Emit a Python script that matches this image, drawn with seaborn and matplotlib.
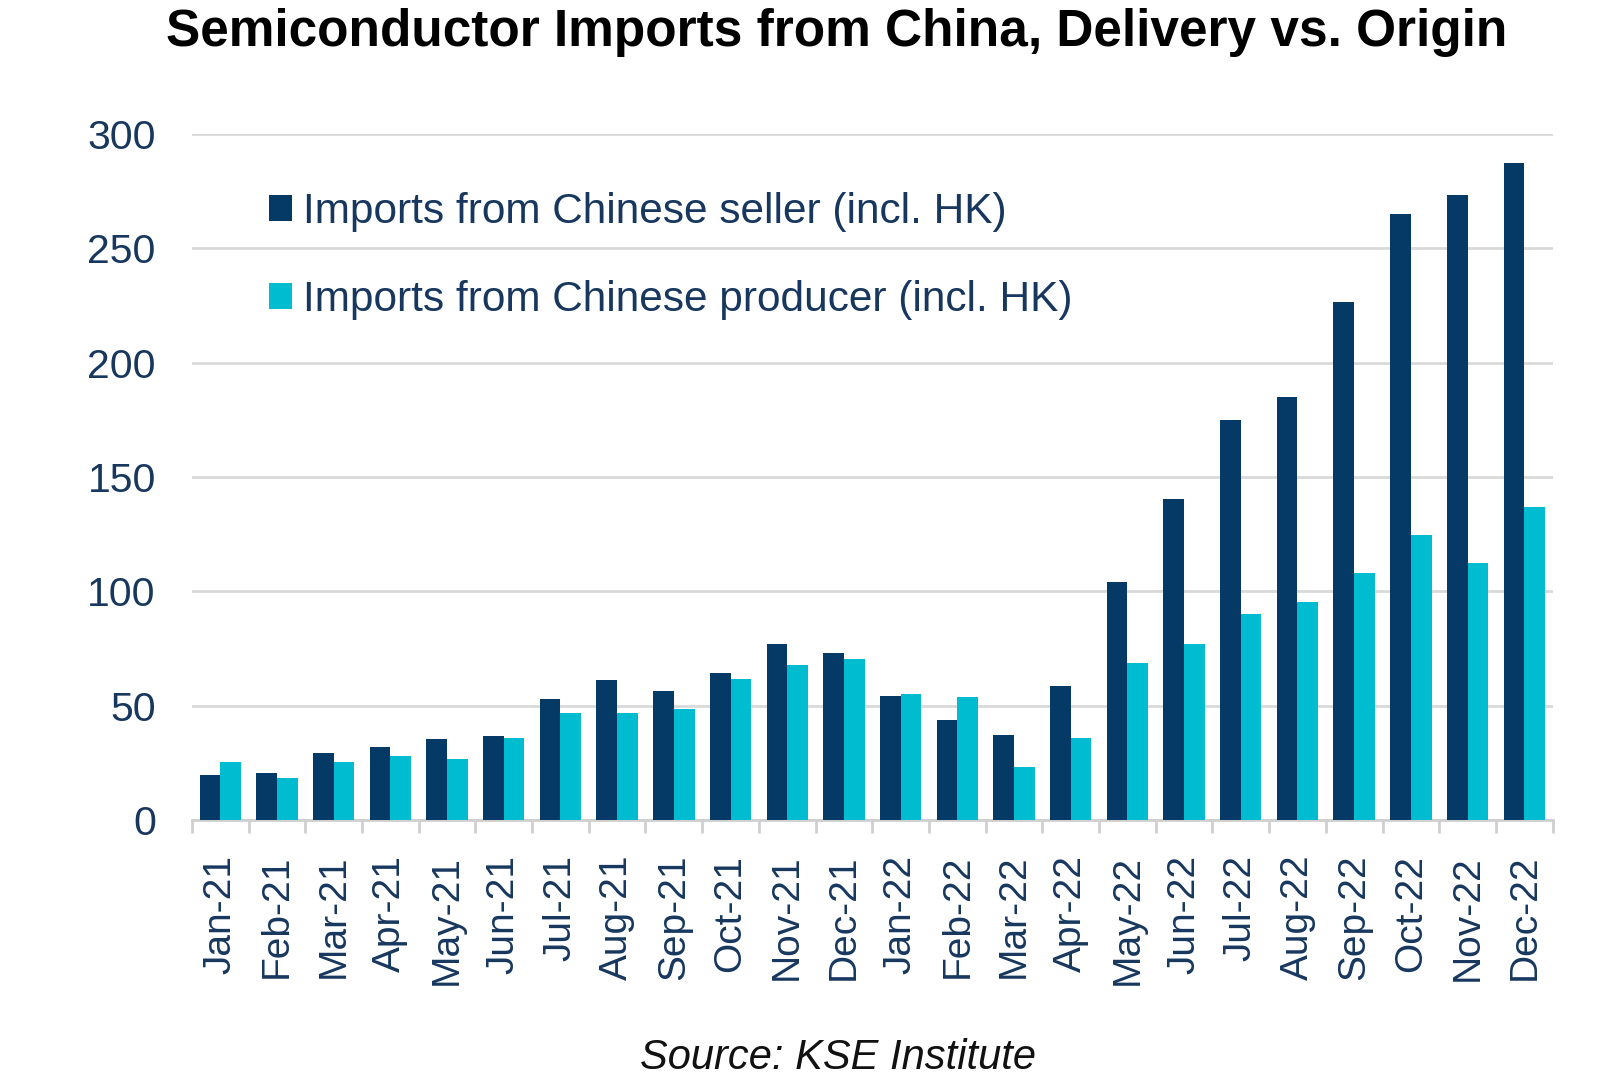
import matplotlib.pyplot as plt
import pandas as pd
import seaborn as sns
from matplotlib.patches import Patch

months = ["Jan-21", "Feb-21", "Mar-21", "Apr-21", "May-21", "Jun-21",
          "Jul-21", "Aug-21", "Sep-21", "Oct-21", "Nov-21", "Dec-21",
          "Jan-22", "Feb-22", "Mar-22", "Apr-22", "May-22", "Jun-22",
          "Jul-22", "Aug-22", "Sep-22", "Oct-22", "Nov-22", "Dec-22"]
seller = [19.6, 20.6, 29.4, 31.9, 35.5, 36.6, 53.1, 61.3, 56.6, 64.3, 76.8, 73.1,
          54.1, 43.7, 37.0, 58.6, 104.1, 140.6, 175.0, 184.8, 226.4, 264.8, 273.2, 287.5]
producer = [25.2, 18.6, 25.2, 27.8, 26.5, 36.0, 46.9, 46.9, 48.4, 61.8, 68.0, 70.6,
            55.1, 53.7, 23.1, 36.0, 68.8, 77.0, 90.2, 95.3, 108.2, 124.6, 112.3, 137.1]
series = ["Imports from Chinese seller (incl. HK)", "Imports from Chinese producer (incl. HK)"]
yticks = [0, 50, 100, 150, 200, 250, 300]

NAVY = "#063a66"
CYAN = "#00bcd0"
TEXT = "#17375e"
GRID = "#d9d9d9"

df = pd.DataFrame({
    "month": months * 2,
    "value": seller + producer,
    "series": [series[0]] * len(months) + [series[1]] * len(months),
})

sns.set_theme(style="white")
plt.rcParams["font.family"] = ["Liberation Sans", "DejaVu Sans"]

fig = plt.figure(figsize=(15.99, 10.85), dpi=100)
ax = fig.add_axes([0.120, 0.2442, 0.851, 0.6323])

sns.barplot(data=df, x="month", y="value", hue="series", hue_order=series,
            order=months, palette=[NAVY, CYAN], width=0.73, saturation=1,
            linewidth=0, legend=False, ax=ax, zorder=3)

ax.set_ylim(0, 300)
ax.set_xlim(-0.5, len(months) - 0.5)
ax.set_yticks(yticks)
ax.yaxis.grid(True, color=GRID, linewidth=2, zorder=0)
ax.set_axisbelow(True)
ax.set_xlabel("")
ax.set_ylabel("")

for side in ["top", "right", "left"]:
    ax.spines[side].set_visible(False)
ax.spines["bottom"].set_color("#cfcfcf")
ax.spines["bottom"].set_linewidth(2)

ax.set_xticks([i - 0.5 for i in range(len(months) + 1)], minor=True)
ax.tick_params(axis="x", which="minor", length=9.5, width=2, color="#cfcfcf", bottom=True)
ax.tick_params(axis="x", which="major", length=0, pad=25, labelsize=28, labelcolor=TEXT,
               labelrotation=90)
ax.tick_params(axis="y", length=0, pad=26, labelsize=29.5, labelcolor=TEXT)

handles = [Patch(facecolor=NAVY, edgecolor="none"), Patch(facecolor=CYAN, edgecolor="none")]
ax.legend(handles, series, loc="upper left", bbox_to_anchor=(0.044, 0.94), frameon=False,
          fontsize=30.5, labelcolor=TEXT, handlelength=0.55, handleheight=0.55,
          handletextpad=0.25, labelspacing=1.13, borderaxespad=0)

fig.text(0.523, 0.970, "Semiconductor Imports from China, Delivery vs. Origin",
         ha="center", va="center", fontsize=37, fontweight="bold", color="black")
fig.text(0.524, 0.025, "Source: KSE Institute", ha="center", va="center",
         fontsize=30, fontstyle="italic", color="#111111")

fig.savefig("out.png", dpi=100)
